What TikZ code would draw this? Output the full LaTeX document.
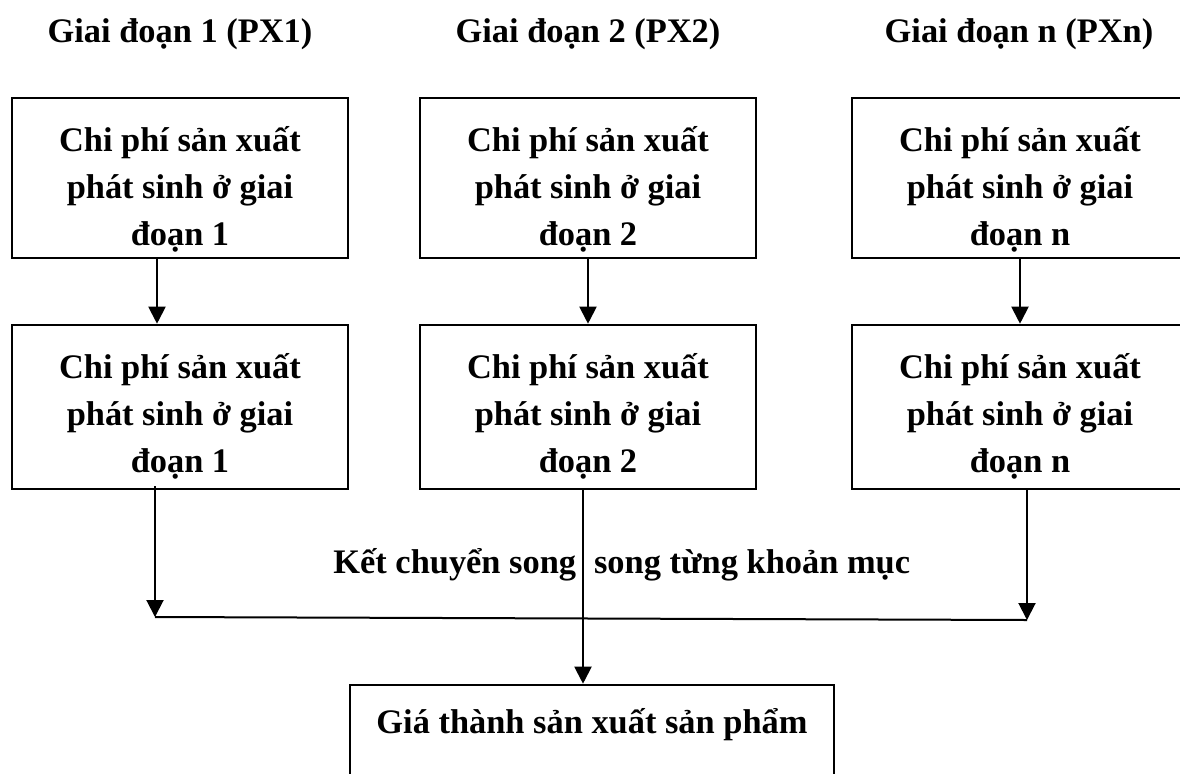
\documentclass[tikz,border=0pt]{standalone}
\usepackage{fontspec}
\setmainfont{Liberation Serif}
\usetikzlibrary{arrows.meta, positioning}

\begin{document}
\begin{tikzpicture}[x=0.5pt, y=-0.5pt,
  every node/.style={font=\fontsize{17.2}{23.3}\selectfont\bfseries},
  stagebox/.style={draw, line width=1.3pt, inner sep=0pt, minimum width=168pt},
  boxtext/.style={align=center, anchor=base},
  arr/.style={line width=1pt, -{Triangle[length=8.5pt, width=8.5pt]}},
  link/.style={line width=1pt}]

\useasboundingbox (0,0) rectangle (1180,773);
\clip (0,0) rectangle (1180,773);

% Stage headers
\node[anchor=base] (h1) at (180,42) {Giai đoạn 1 (PX1)};
\node[anchor=base] (h2) at (588,42) {Giai đoạn 2 (PX2)};
\node[anchor=base] (hn) at (1019,42) {Giai đoạn n (PXn)};

% First row of cost boxes
\node[stagebox, minimum height=80pt] (b1) at (180,178) {};
\node[stagebox, minimum height=80pt] (b2) at (588,178) {};
\node[stagebox, minimum height=80pt] (bn) at (1020,178) {};
\node[boxtext] (t1) at (180,245) {Chi phí sản xuất\\phát sinh ở giai\\đoạn 1};
\node[boxtext] (t2) at (588,245) {Chi phí sản xuất\\phát sinh ở giai\\đoạn 2};
\node[boxtext] (tn) at (1020,245) {Chi phí sản xuất\\phát sinh ở giai\\đoạn n};

% Second row of cost boxes
\node[stagebox, minimum height=82pt] (c1) at (180,407) {};
\node[stagebox, minimum height=82pt] (c2) at (588,407) {};
\node[stagebox, minimum height=82pt] (cn) at (1020,407) {};
\node[boxtext] (s1) at (180,472) {Chi phí sản xuất\\phát sinh ở giai\\đoạn 1};
\node[boxtext] (s2) at (588,472) {Chi phí sản xuất\\phát sinh ở giai\\đoạn 2};
\node[boxtext] (sn) at (1020,472) {Chi phí sản xuất\\phát sinh ở giai\\đoạn n};

% Product cost box
\node[draw, line width=1.3pt, inner sep=0pt, minimum width=242pt, minimum height=60pt] (gt) at (592,745) {};
\node[anchor=base] (gtt) at (592,733) {Giá thành sản xuất sản phẩm};

% Transfer label
\node[anchor=base west, inner sep=0pt] (kc) at (333,573) {Kết chuyển song\hspace{9pt}song từng khoản mục};

% Collecting line
\coordinate (j1) at (155,617);
\coordinate (jn) at (1027,620);
\draw[link] (j1) -- (jn);

% Arrows between rows
\draw[arr] ([xshift=-11.5pt]b1.south) -- ([xshift=-11.5pt]c1.north);
\draw[arr] (b2.south) -- (c2.north);
\draw[arr] (bn.south) -- (cn.north);

% Arrows down to the collecting line and the product box
\draw[arr] ([xshift=-12.5pt, yshift=2pt]c1.south) -- (j1);
\draw[arr] ([xshift=3.5pt]cn.south) -- (jn);
\draw[arr] ([xshift=-2.5pt]c2.south) -- ([xshift=-4.5pt]gt.north);
\end{tikzpicture}
\end{document}
